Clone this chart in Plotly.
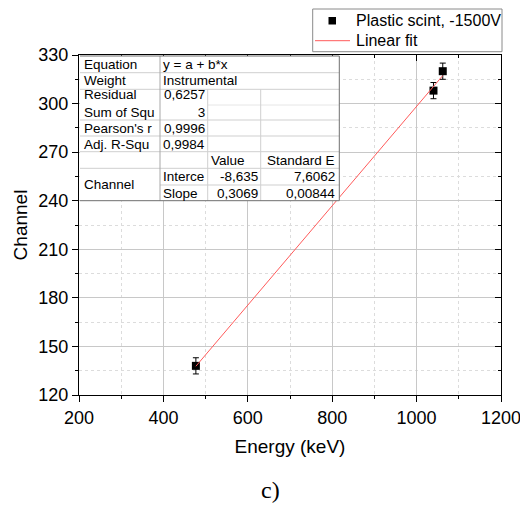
import plotly.graph_objects as go

# ---- data ----
energy = [477, 1040, 1062]          # keV
channel = [138, 308, 320]
channel_err = [5, 5, 5]
fit_intercept = -8.635
fit_slope = 0.3069
fit_x = [min(energy), max(energy)]
fit_y = [fit_intercept + fit_slope * v for v in fit_x]

x_ticks = [200, 400, 600, 800, 1000, 1200]
y_ticks = [120, 150, 180, 210, 240, 270, 300, 330]

series_name = "Plastic scint, -1500V"
fit_name = "Linear fit"

# fit-report table text
tbl_col1 = ["Equation", "Weight", "Residual<br>Sum of Squ", "Pearson's r", "Adj. R-Squ", "Channel"]
tbl_col2 = ["y = a + b*x", "Instrumental", "0,6257<br>3", "0,9996", "0,9984", "Interce", "Slope"]
tbl_col3 = ["Value", "-8,635", "0,3069"]
tbl_col4 = ["Standard E", "7,6062", "0,00844"]

# ---- layout geometry ----
# the page body has an 8px margin, so the figure is placed 8px in from the window corner
OFF = 8
W, H = 520, 497
PX0, PX1 = 79, 501       # plot area in window pixels (x)
PY0, PY1 = 55, 395       # plot area in window pixels (y)
L, T = PX0 - OFF, PY0 - OFF
R, B = W - (PX1 - OFF), H - (PY1 - OFF)
pw, ph = PX1 - PX0, PY1 - PY0


def xp(px):
    return (px - PX0) / pw


def yp(py):
    return (PY1 - py) / ph


FONT = "Liberation Sans, Arial, sans-serif"

fig = go.Figure()

fig.add_trace(go.Scatter(
    x=energy, y=channel, mode="markers", name=series_name,
    marker=dict(symbol="square", size=8, color="black"),
    error_y=dict(type="data", array=channel_err, visible=True,
                 color="black", thickness=1, width=3),
    showlegend=False,
))
fig.add_trace(go.Scatter(
    x=fit_x, y=fit_y, mode="lines", name=fit_name,
    line=dict(color="#ff5a5a", width=1), showlegend=False,
))
# invisible trace to activate the top/right mirror axes
fig.add_trace(go.Scatter(
    x=energy, y=channel, xaxis="x2", yaxis="y2", mode="markers",
    marker=dict(opacity=0), showlegend=False, hoverinfo="skip",
))

axis_common = dict(
    showline=True, linecolor="black", linewidth=1.3,
    ticks="outside", ticklen=6, tickwidth=1.2, tickcolor="black",
    tickfont=dict(family=FONT, size=18, color="black"),
    showgrid=True, gridcolor="#c8c8c8", gridwidth=1,
    zeroline=False,
)

fig.update_layout(
    width=W, height=H,
    margin=dict(l=L, r=R, t=T, b=B, autoexpand=False),
    paper_bgcolor="white", plot_bgcolor="white",
    font=dict(family=FONT, color="black"),
    showlegend=False,
    xaxis=dict(
        range=[200, 1200], tickvals=x_ticks, **axis_common,
        minor=dict(dtick=100, ticks="outside", ticklen=3, tickcolor="black",
                   showgrid=True, gridcolor="#dcdcdc", griddash="dot"),
        title=dict(text="Energy (keV)", font=dict(family=FONT, size=19, color="black"), standoff=12),
    ),
    yaxis=dict(
        range=[120, 330], tickvals=y_ticks, **axis_common,
        minor=dict(dtick=15, ticks="outside", ticklen=3, tickcolor="black",
                   showgrid=True, gridcolor="#dcdcdc", griddash="dot"),
        title=dict(text="Channel", font=dict(family=FONT, size=19, color="black"), standoff=5),
    ),
    xaxis2=dict(
        overlaying="x", side="top", range=[200, 1200], tickvals=x_ticks,
        showline=True, linecolor="black", linewidth=1.3,
        ticks="inside", ticklen=6, tickcolor="black", showticklabels=False,
        showgrid=False, zeroline=False,
        minor=dict(dtick=100, ticks="inside", ticklen=3, tickcolor="black"),
    ),
    yaxis2=dict(
        overlaying="y", side="right", range=[120, 330], tickvals=y_ticks,
        showline=True, linecolor="black", linewidth=1.3,
        ticks="inside", ticklen=6, tickcolor="black", showticklabels=False,
        showgrid=False, zeroline=False,
        minor=dict(dtick=15, ticks="inside", ticklen=3, tickcolor="black"),
    ),
)

shapes = []
annotations = []


def hline(py, x0, x1, color="#cfcfcf", width=1):
    shapes.append(dict(type="line", xref="paper", yref="paper",
                       x0=xp(x0), x1=xp(x1), y0=yp(py), y1=yp(py),
                       line=dict(color=color, width=width), layer="above"))


def vline(px, y0, y1, color="#cfcfcf", width=1):
    shapes.append(dict(type="line", xref="paper", yref="paper",
                       x0=xp(px), x1=xp(px), y0=yp(y0), y1=yp(y1),
                       line=dict(color=color, width=width), layer="above"))


def text(t, px, py, anchor="left", size=13.5, family=FONT):
    annotations.append(dict(
        text=t, x=xp(px), y=yp(py), xref="paper", yref="paper",
        xanchor=anchor, yanchor="middle", align=anchor if anchor != "center" else "center",
        showarrow=False, borderpad=0,
        font=dict(family=family, size=size, color="black"),
    ))


# ---- fit report table ----
cx = [PX0 + 1, 160, 207.7, 260.7, 339.3]
ry = [PY0 + 1, 72.7, 89.3, 120, 136, 151.7, 168.3, 185, 200.7]
shapes.append(dict(type="rect", xref="paper", yref="paper",
                   x0=xp(cx[0]), x1=xp(cx[4]), y0=yp(ry[-1]), y1=yp(ry[0]),
                   fillcolor="white", line=dict(width=0), layer="above"))
for py in ry[1:7]:
    hline(py, cx[0], cx[4])
hline(105, cx[2], cx[4], "#e6e6e6")
hline(ry[7], cx[1], cx[4])
vline(cx[1], ry[0], ry[-1], "#a8a8a8")
vline(cx[2], ry[2], ry[-1])
vline(cx[3], ry[2], ry[-1])
hline(ry[-1], cx[0], cx[4], "#707070")
vline(cx[4], ry[0], ry[-1], "#707070")
hline(ry[0], cx[0], cx[4], "#707070")

col1_y = [64, 81, 103.8, 128.5, 144, 184.5]
for t, py in zip(tbl_col1, col1_y):
    text(t, 83, py)

col2_y = [64, 81, 103.8, 128.5, 144, 176.5, 193]
col2_anchor = ["left", "left", "right", "right", "right", "left", "left"]
for t, py, a in zip(tbl_col2, col2_y, col2_anchor):
    text(t, 161.5 if a == "left" else 205.5, py, a)

text(tbl_col3[0], 210, 160, "left")
text(tbl_col3[1], 258.5, 176.5, "right")
text(tbl_col3[2], 258.5, 193, "right")
text(tbl_col4[0], 335.5, 160, "right")
text(tbl_col4[1], 335.5, 176.5, "right")
text(tbl_col4[2], 335.5, 193, "right")

# ---- legend (drawn in the style of the reference) ----
shapes.append(dict(type="rect", xref="paper", yref="paper",
                   x0=xp(312.7), x1=xp(502), y0=yp(51.7), y1=yp(9),
                   fillcolor="white", line=dict(color="#8a8a8a", width=1), layer="above"))
shapes.append(dict(type="rect", xref="paper", yref="paper",
                   x0=xp(328.5), x1=xp(336), y0=yp(24.5), y1=yp(17),
                   fillcolor="black", line=dict(width=0), layer="above"))
shapes.append(dict(type="line", xref="paper", yref="paper",
                   x0=xp(315), x1=xp(350), y0=yp(40.7), y1=yp(40.7),
                   line=dict(color="#ff5a5a", width=1), layer="above"))
text(series_name, 355, 20.7, "left", size=16)
text(fit_name, 355, 40.7, "left", size=16)

# ---- panel label ----
text("c)", 270, 490, "center", size=24, family="Liberation Serif, Times New Roman, serif")

fig.update_layout(shapes=shapes, annotations=annotations)

fig.write_html("out.html")
